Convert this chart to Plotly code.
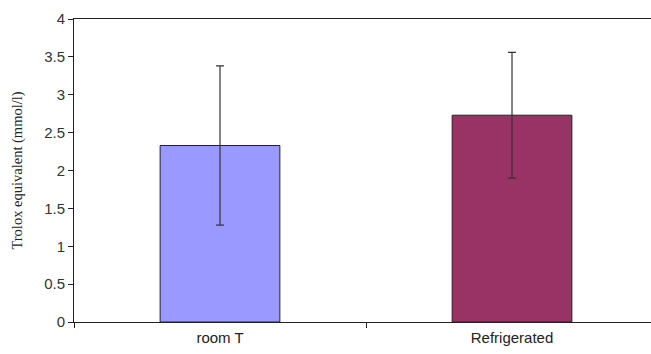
import plotly.graph_objects as go

categories = ["room T", "Refrigerated"]
values = [2.33, 2.73]
errors = [1.05, 0.83]
colors = ["#9999FF", "#993366"]
y_ticks = [0, 0.5, 1, 1.5, 2, 2.5, 3, 3.5, 4]
y_tick_text = ["0", "0.5", "1", "1.5", "2", "2.5", "3", "3.5", "4"]

xpos = list(range(len(categories)))

fig = go.Figure()
fig.add_trace(go.Bar(
    x=xpos, y=values, width=0.41,
    marker=dict(color=colors, line=dict(color="#222222", width=1)),
    error_y=dict(type="data", array=errors, visible=True, color="#333333",
                 thickness=1.2, width=4),
    showlegend=False, hoverinfo="skip",
))
# invisible trace for boundary tick axis
fig.add_trace(go.Scatter(x=[-0.5, 1.5], y=[0, 0], xaxis="x2", mode="markers",
                         marker=dict(opacity=0), showlegend=False, hoverinfo="skip"))

XR = [-0.5, 1.476]

fig.update_layout(
    width=651, height=354,
    margin=dict(l=74, r=0, t=19, b=32),
    plot_bgcolor="white", paper_bgcolor="white",
    font=dict(family="Liberation Sans, Arial", size=15, color="#222222"),
    xaxis=dict(
        range=XR, tickmode="array", tickvals=xpos, ticktext=categories,
        ticks="", showline=True, linecolor="#222222", linewidth=1, mirror=True,
        showgrid=False, zeroline=False, ticklabelstandoff=2, automargin=False,
        tickfont=dict(family="Liberation Sans, Arial", size=15, color="#222222"),
    ),
    xaxis2=dict(
        overlaying="x", matches="x", range=XR, tickmode="array",
        tickvals=[-0.5, 0.5, 1.5], ticks="outside", ticklen=5, tickcolor="#222222",
        showticklabels=False, showline=False, showgrid=False, zeroline=False,
        side="bottom", automargin=False,
    ),
    yaxis=dict(
        range=[0, 4], tickmode="array", tickvals=y_ticks, ticktext=y_tick_text,
        ticks="outside", ticklen=5, tickcolor="#222222",
        showline=True, linecolor="#222222", linewidth=1,
        showgrid=False, zeroline=False, automargin=False,
        tickfont=dict(family="Liberation Sans, Arial", size=15, color="#333333"),
        title=dict(text="Trolox equivalent (mmol/l)",
                   font=dict(family="Liberation Serif, Times New Roman", size=14.5, color="#222222"),
                   standoff=18),
    ),
)

fig.write_html(
    "out.html",
    config={"displayModeBar": False, "staticPlot": True},
    post_script=(
        "document.documentElement.style.overflow='hidden';"
        "document.documentElement.style.margin='0';"
        "document.body.style.margin='0';document.body.style.overflow='hidden';"
    ),
)
